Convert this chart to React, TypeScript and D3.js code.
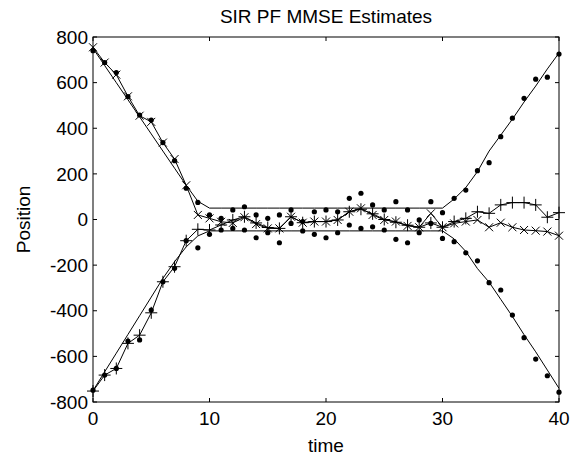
import * as d3 from "d3";

// time steps 0..40
const times = d3.range(0, 41);

// true trajectories
const truthTop = [750, 675, 600, 525, 450, 375, 300, 225, 150, 80, 50, 50, 50, 50, 50, 50, 50, 50, 50, 50, 50,
  50, 50, 50, 50, 50, 50, 50, 50, 50, 50, 90, 140, 210, 300, 370, 440, 515, 585, 660, 730];
const truthBottom = [-750, -668, -586, -504, -422, -340, -258, -185, -120, -72, -50, -50, -50, -50, -50, -50, -50, -50, -50, -50, -50,
  -50, -50, -50, -50, -50, -50, -50, -50, -50, -50, -85, -140, -215, -275, -350, -425, -505, -580, -660, -740];

// measurements (dots)
const measTop = [740, 688, 644, 539, 458, 436, 337, 258, 137, 75, 20, 5, 42, 56, 20, 5, 20, 42, -9, 34, 42,
  34, 93, 115, 64, 42, 78, 42, -2, 78, 30, 93, 129, 214, 249, 363, 444, 531, 615, 624, 725];
const measBottom = [-748, -682, -653, -533, -528, -397, -273, -214, -93, -124, -65, -46, -39, -46, -80, -58, -102, -17, -50, -65, -80,
  -58, -24, -39, -32, -46, -87, -102, -58, -17, -83, -97, -146, -181, -277, -309, -419, -518, -612, -685, -757];

// MMSE estimates
const estX = [755, 688, 635, 540, 455, 428, 337, 265, 150, 20, 5, -10, -15, 10, -20, -39, -39, 12, -14, -9, -9,
  -2, 34, 49, 20, -2, -9, -28, -34, 27, -34, -17, -9, -2, -34, -14, -34, -46, -49, -53, -71];
const estPlus = [-752, -682, -653, -543, -507, -409, -273, -207, -93, -43, -46, -24, -2, 12, -15, -35, -39, 12, -14, -9, -9,
  -2, 34, 45, 25, 0, -12, -25, -34, -15, -34, -9, 5, 34, 27, 64, 74, 74, 64, 10, 30];

const xTicks = [0, 10, 20, 30, 40];
const yTicks = d3.range(-800, 801, 200);

const W = 578;
const H = 457;
const margin = { top: 37, right: 19, bottom: 55, left: 93 };
const FONT = "'Liberation Sans', Arial, Helvetica, sans-serif";

export default function App() {
  const x = d3.scaleLinear().domain([0, 40]).range([margin.left, W - margin.right]);
  const y = d3.scaleLinear().domain([-800, 800]).range([H - margin.bottom, margin.top]);
  const x0 = x(0), x1 = x(40), y0 = y(-800), y1 = y(800);
  const tl = 4;

  const line = d3.line<number>().x((_, i) => x(times[i])).y(d => y(d));

  return (
    <svg width={W} height={H} style={{ position: "absolute", left: 0, top: 0, background: "#fff" }}
      fontFamily={FONT}>
      <rect width={W} height={H} fill="#fff" />
      {/* true tracks */}
      <path d={line(truthTop) || ""} fill="none" stroke="#000" strokeWidth={1} />
      <path d={line(truthBottom) || ""} fill="none" stroke="#000" strokeWidth={1} />
      {/* estimates */}
      <path d={line(estX) || ""} fill="none" stroke="#000" strokeWidth={1} />
      <path d={line(estPlus) || ""} fill="none" stroke="#000" strokeWidth={1} />
      {estX.map((d, i) => (
        <path key={"x" + i} transform={`translate(${x(times[i])},${y(d)})`}
          d="M-4,-4L4,4M-4,4L4,-4" stroke="#000" strokeWidth={1} fill="none" />
      ))}
      {estPlus.map((d, i) => (
        <path key={"p" + i} transform={`translate(${x(times[i])},${y(d)})`}
          d="M-6,0L6,0M0,-6L0,6" stroke="#000" strokeWidth={1} fill="none" />
      ))}
      {/* measurements */}
      {measTop.map((d, i) => (
        <circle key={"mt" + i} cx={x(times[i])} cy={y(d)} r={2.6} fill="#000" />
      ))}
      {measBottom.map((d, i) => (
        <circle key={"mb" + i} cx={x(times[i])} cy={y(d)} r={2.6} fill="#000" />
      ))}
      {/* axes box */}
      <rect x={x0} y={y1} width={x1 - x0} height={y0 - y1} fill="none" stroke="#000" strokeWidth={1} />
      {xTicks.map(t => (
        <g key={"xt" + t}>
          <line x1={x(t)} x2={x(t)} y1={y0} y2={y0 - tl} stroke="#000" />
          <line x1={x(t)} x2={x(t)} y1={y1} y2={y1 + tl} stroke="#000" />
          <text x={x(t)} y={y0 + 23} textAnchor="middle" fontSize={19}>{t}</text>
        </g>
      ))}
      {yTicks.map(t => (
        <g key={"yt" + t}>
          <line x1={x0} x2={x0 + tl} y1={y(t)} y2={y(t)} stroke="#000" />
          <line x1={x1} x2={x1 - tl} y1={y(t)} y2={y(t)} stroke="#000" />
          <text x={x0 - 5} y={y(t)} dy="0.35em" textAnchor="end" fontSize={19}>{t}</text>
        </g>
      ))}
      <text x={(x0 + x1) / 2} y={23} textAnchor="middle" fontSize={19}>SIR PF MMSE Estimates</text>
      <text x={(x0 + x1) / 2} y={452} textAnchor="middle" fontSize={19}>time</text>
      <text transform={`translate(30,${(y0 + y1) / 2}) rotate(-90)`} textAnchor="middle" fontSize={19}>Position</text>
    </svg>
  );
}
